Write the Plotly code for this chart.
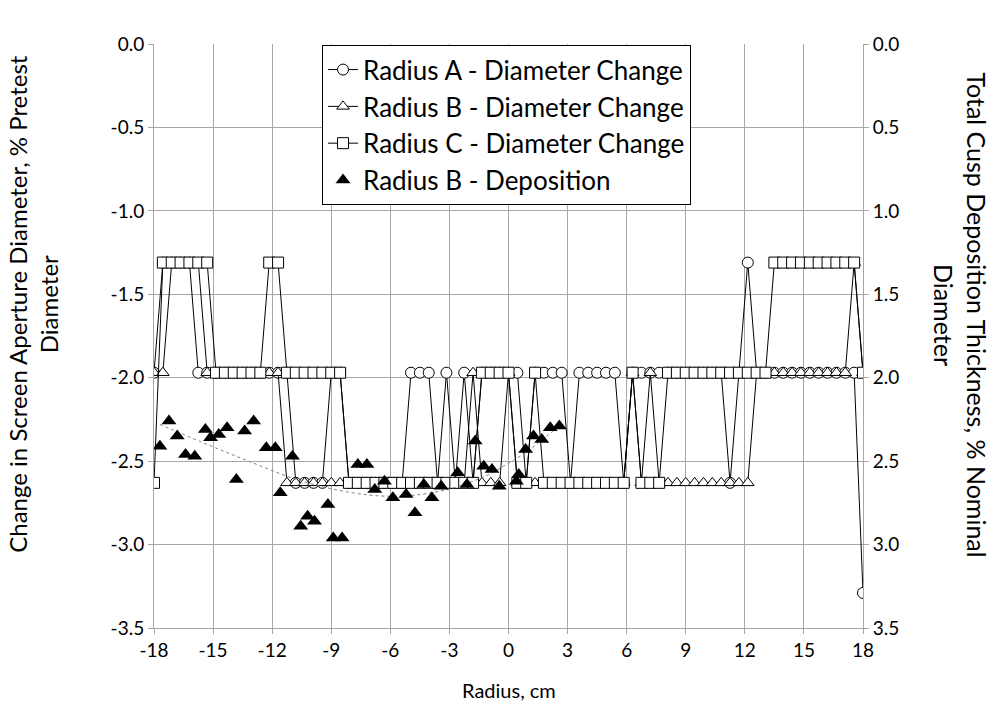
import plotly.graph_objects as go

# ---------------- data ----------------
radius_cm = [
    -18.0, -17.55, -17.1, -16.65, -16.2, -15.75, -15.3, -14.85, -14.4, -13.95,
    -13.5, -13.05, -12.6, -12.15, -11.7, -11.25, -10.8, -10.35, -9.9, -9.45,
    -9.0, -8.55, -8.1, -7.65, -7.2, -6.75, -6.3, -5.85, -5.4, -4.95,
    -4.5, -4.05, -3.6, -3.15, -2.7, -2.25, -1.8, -1.35, -0.9, -0.45,
    0.0, 0.45, 0.9, 1.35, 1.8, 2.25, 2.7, 3.15, 3.6, 4.05,
    4.5, 4.95, 5.4, 5.85, 6.3, 6.75, 7.2, 7.65, 8.1, 8.55,
    9.0, 9.45, 9.9, 10.35, 10.8, 11.25, 11.7, 12.15, 12.6, 13.05,
    13.5, 13.95, 14.4, 14.85, 15.3, 15.75, 16.2, 16.65, 17.1, 17.55,
    18.0,
]

radius_a_change = [
    -1.97, -1.31, -1.31, -1.31, -1.31, -1.97, -1.97, -1.97, -1.97, -1.97,
    -1.97, -1.97, -1.97, -1.97, -1.97, -1.97, -2.63, -2.63, -2.63, -2.63,
    -1.97, -1.97, -2.63, -2.63, -2.63, -2.63, -2.63, -2.63, -2.63, -1.97,
    -1.97, -1.97, -2.63, -1.97, -2.63, -1.97, -2.63, -1.97, -1.97, -1.97,
    -1.97, -1.97, -2.63, -1.97, -1.97, -1.97, -1.97, -2.63, -1.97, -1.97,
    -1.97, -1.97, -1.97, -2.63, -1.97, -1.97, -1.97, -1.97, -1.97, -1.97,
    -1.97, -1.97, -1.97, -1.97, -1.97, -2.63, -1.97, -1.31, -1.97, -1.97,
    -1.97, -1.97, -1.97, -1.97, -1.97, -1.97, -1.97, -1.97, -1.97, -1.97,
    -3.29,
]

radius_b_change = [
    -1.97, -1.97, -1.31, -1.31, -1.31, -1.31, -1.97, -1.97, -1.97, -1.97,
    -1.97, -1.97, -1.97, -1.97, -1.97, -2.63, -2.63, -2.63, -2.63, -2.63,
    -2.63, -2.63, -2.63, -2.63, -2.63, -2.63, -2.63, -2.63, -2.63, -2.63,
    -2.63, -2.63, -2.63, -2.63, -2.63, -2.63, -1.97, -2.63, -2.63, -2.63,
    -1.97, -2.63, -2.63, -2.63, -2.63, -2.63, -2.63, -2.63, -2.63, -2.63,
    -2.63, -2.63, -2.63, -2.63, -1.97, -2.63, -1.97, -2.63, -2.63, -2.63,
    -2.63, -2.63, -2.63, -2.63, -2.63, -2.63, -2.63, -2.63, -1.97, -1.97,
    -1.97, -1.97, -1.97, -1.97, -1.97, -1.97, -1.97, -1.97, -1.97, -1.31,
    -1.97,
]

radius_c_change = [
    -2.63, -1.31, -1.31, -1.31, -1.31, -1.31, -1.31, -1.97, -1.97, -1.97,
    -1.97, -1.97, -1.97, -1.31, -1.31, -1.97, -1.97, -1.97, -1.97, -1.97,
    -1.97, -1.97, -2.63, -2.63, -2.63, -2.63, -2.63, -2.63, -2.63, -2.63,
    -2.63, -2.63, -2.63, -2.63, -2.63, -2.63, -2.63, -1.97, -1.97, -1.97,
    -1.97, -2.63, -2.63, -1.97, -2.63, -2.63, -2.63, -2.63, -2.63, -2.63,
    -2.63, -2.63, -2.63, -2.63, -1.97, -2.63, -2.63, -2.63, -1.97, -1.97,
    -1.97, -1.97, -1.97, -1.97, -1.97, -1.97, -1.97, -1.97, -1.97, -1.97,
    -1.31, -1.31, -1.31, -1.31, -1.31, -1.31, -1.31, -1.31, -1.31, -1.31,
    -1.97,
]

deposition_x = [
    -17.70, -17.24, -16.82, -16.40, -15.93, -15.39, -15.13, -14.71, -14.29, -13.82,
    -13.40, -12.94, -12.30, -11.84, -11.59, -10.97, -10.55, -10.20, -9.85, -9.17,
    -8.90, -8.45, -7.65, -7.19, -6.79, -6.30, -5.87, -5.20, -4.75, -4.30,
    -3.89, -3.42, -2.58, -2.11, -1.69, -1.26, -0.84, -0.47, 0.40, 0.52,
    0.87, 1.27, 1.69, 2.12, 2.58,
]
deposition_y = [
    2.41, 2.26, 2.35, 2.46, 2.47, 2.31, 2.36, 2.34, 2.30, 2.61,
    2.32, 2.26, 2.42, 2.42, 2.69, 2.47, 2.89, 2.83, 2.86, 2.76,
    2.96, 2.96, 2.52, 2.52, 2.67, 2.62, 2.72, 2.70, 2.81, 2.64,
    2.72, 2.65, 2.57, 2.64, 2.38, 2.53, 2.55, 2.65, 2.62, 2.58,
    2.43, 2.35, 2.37, 2.30, 2.29,
]

# dotted trend line
trend_x = [-17.7, -15.5, -13.2, -10.5, -7.9, -6.2, -4.5, -2.8, -1.0, 0.3, 0.9, 1.4, 2.6]
trend_y = [2.28, 2.39, 2.50, 2.62, 2.69, 2.71, 2.70, 2.66, 2.58, 2.49, 2.45, 2.40, 2.29]

x_ticks = [-18, -15, -12, -9, -6, -3, 0, 3, 6, 9, 12, 15, 18]
x_tick_text = ["-18", "-15", "-12", "-9", "-6", "-3", "0", "3", "6", "9", "12", "15", "18"]
left_ticks = [0.0, -0.5, -1.0, -1.5, -2.0, -2.5, -3.0, -3.5]
left_tick_text = ["0.0", "-0.5", "-1.0", "-1.5", "-2.0", "-2.5", "-3.0", "-3.5"]
right_ticks = [0.0, 0.5, 1.0, 1.5, 2.0, 2.5, 3.0, 3.5]
right_tick_text = ["0.0", "0.5", "1.0", "1.5", "2.0", "2.5", "3.0", "3.5"]

# ---------------- figure ----------------
FONT = "Lato, Arial, sans-serif"
GRID = "#a6a6a6"

fig = go.Figure()

def change_trace(y, name, symbol, group):
    return go.Scatter(
        x=radius_cm, y=y, name=name, mode="lines+markers",
        line=dict(color="black", width=1),
        marker=dict(symbol=symbol, size=11, color="white",
                    line=dict(color="black", width=1)),
        legendgroup=group, yaxis="y",
    )

fig.add_trace(change_trace(radius_a_change, "Radius A - Diameter Change", "circle", "a"))
fig.add_trace(change_trace(radius_b_change, "Radius B - Diameter Change", "triangle-up", "b"))
fig.add_trace(change_trace(radius_c_change, "Radius C - Diameter Change", "square", "c"))

fig.add_trace(go.Scatter(
    x=trend_x, y=trend_y, mode="lines", showlegend=False,
    line=dict(color="#7f7f7f", width=1, dash="dot", shape="spline"),
    yaxis="y2", hoverinfo="skip",
))
fig.add_trace(go.Scatter(
    x=deposition_x, y=deposition_y, name="Radius B - Deposition", mode="markers",
    marker=dict(symbol="triangle-up", size=13, color="black",
                line=dict(color="black", width=0)),
    legendgroup="d", yaxis="y2",
))

fig.update_layout(
    width=1005, height=711, autosize=False,
    margin=dict(l=154, r=142, t=44, b=83),
    paper_bgcolor="white", plot_bgcolor="white",
    font=dict(family=FONT, size=19, color="black"),
    showlegend=True,
    legend=dict(
        x=0.237, y=0.998, xanchor="left", yanchor="top",
        bordercolor="black", borderwidth=1, bgcolor="white",
        font=dict(family=FONT, size=26, color="black"),
        tracegroupgap=0, itemwidth=30,
    ),
    xaxis=dict(
        range=[-18, 18], tickvals=x_ticks, ticktext=x_tick_text,
        showgrid=True, gridcolor=GRID, gridwidth=1, zeroline=False,
        showline=True, linecolor=GRID, linewidth=1,
        ticks="outside", ticklen=5, tickcolor=GRID,
        tickfont=dict(family=FONT, size=19),
    ),
    yaxis=dict(
        range=[-3.5, 0], tickvals=left_ticks, ticktext=left_tick_text,
        showgrid=True, gridcolor=GRID, gridwidth=1, zeroline=False,
        showline=True, linecolor=GRID, linewidth=1,
        ticks="outside", ticklen=5, tickcolor=GRID,
        tickfont=dict(family=FONT, size=19),
    ),
    yaxis2=dict(
        range=[3.5, 0], overlaying="y", side="right",
        tickvals=right_ticks, ticktext=right_tick_text,
        showgrid=False, zeroline=False,
        showline=True, linecolor=GRID, linewidth=1,
        ticks="outside", ticklen=5, tickcolor=GRID,
        tickfont=dict(family=FONT, size=19),
    ),
    annotations=[
        dict(text="Change in Screen Aperture Diameter, % Pretest<br>Diameter",
             xref="paper", yref="paper", x=-0.170, y=0.556,
             xanchor="center", yanchor="middle", textangle=-90, showarrow=False,
             font=dict(family=FONT, size=24, color="black")),
        dict(text="Total Cusp Deposition Thickness, % Nominal<br>Diameter",
             xref="paper", yref="paper", x=1.137, y=0.537,
             xanchor="center", yanchor="middle", textangle=90, showarrow=False,
             font=dict(family=FONT, size=25, color="black")),
        dict(text="Radius, cm", xref="paper", yref="paper", x=0.5, y=-0.106,
             xanchor="center", yanchor="middle", showarrow=False,
             font=dict(family=FONT, size=20, color="black")),
    ],
)

fig.write_html("out.html")
